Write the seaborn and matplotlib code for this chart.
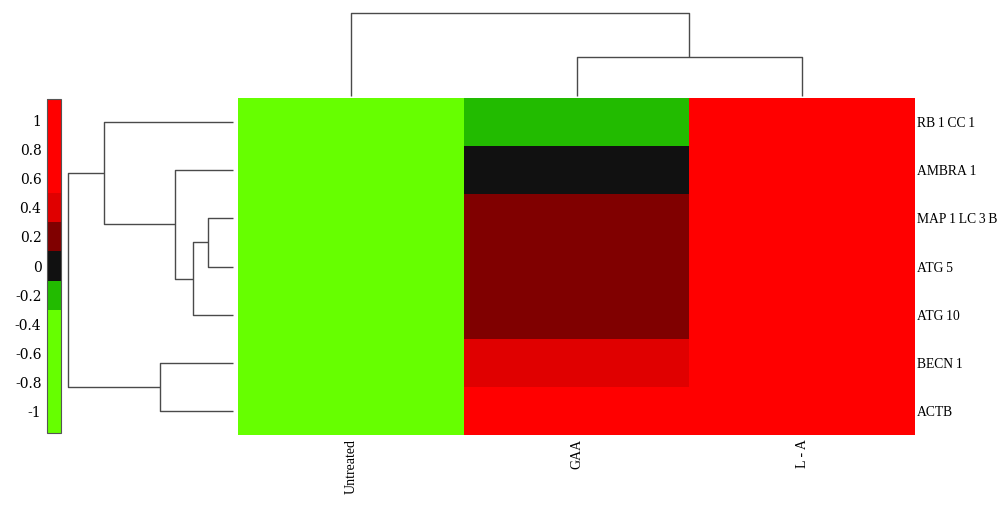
import numpy as np
import pandas as pd
import matplotlib
matplotlib.use("Agg")
import matplotlib.pyplot as plt
import seaborn as sns
from matplotlib.colors import ListedColormap, BoundaryNorm
from matplotlib.cm import ScalarMappable

# ---------------- data ----------------
genes = ["RB\u20091\u2009CC\u20091", "AMBRA\u20091", "MAP\u20091\u2009LC\u20093\u2009B",
         "ATG\u20095", "ATG\u200910", "BECN\u20091", "ACTB"]
treatments = ["Untreated", "GAA", "L - A"]
untreated = [-1.0, -1.0, -1.0, -1.0, -1.0, -1.0, -1.0]
gaa = [-0.2, 0.0, 0.2, 0.2, 0.2, 0.4, 1.0]
l_a = [1.0, 1.0, 1.0, 1.0, 1.0, 1.0, 1.0]

# row dendrogram merges (leaves 0..6, new clusters numbered from 7)
row_left = [2, 7, 1, 0, 5, 10]
row_right = [3, 4, 8, 9, 6, 11]
row_height = [0.15, 0.24, 0.35, 0.78, 0.44, 1.0]
# column dendrogram merges (leaves 0..2, new clusters from 3)
col_left = [1, 0]
col_right = [2, 3]
col_height = [0.47, 1.0]

cbar_bounds = [-1.15, -0.3, -0.1, 0.1, 0.3, 0.5, 1.15]
cbar_colors = ["#66ff00", "#22bb00", "#111111", "#800000", "#e00000", "#ff0000"]
cbar_ticks = [-1, -0.8, -0.6, -0.4, -0.2, 0, 0.2, 0.4, 0.6, 0.8, 1]
cbar_ticklabels = ["-1", "-0.8", "-0.6", "-0.4", "-0.2", "0", "0.2", "0.4", "0.6", "0.8", "1"]

# ---------------- figure ----------------
sns.set_theme(style="white")
plt.rcParams["font.family"] = ["Liberation Serif", "DejaVu Serif"]
plt.rcParams["text.color"] = "black"

W, H = 1000, 505
fig = plt.figure(figsize=(W / 100, H / 100), dpi=100)

def px_axes(x0, y0, x1, y1):
    return fig.add_axes([x0 / W, 1 - y1 / H, (x1 - x0) / W, (y1 - y0) / H])

df = pd.DataFrame({treatments[0]: untreated, treatments[1]: gaa, treatments[2]: l_a}, index=genes)
cmap = ListedColormap(cbar_colors)
norm = BoundaryNorm(cbar_bounds, cmap.N)

ax_hm = px_axes(238, 98, 915, 435)
sns.heatmap(df, cmap=cmap, norm=norm, cbar=False, ax=ax_hm,
            xticklabels=True, yticklabels=True, linewidths=0)
ax_hm.yaxis.tick_right()
ax_hm.tick_params(axis="y", length=0, pad=1.5, labelcolor="black")
ax_hm.tick_params(axis="x", length=0, pad=3, labelcolor="black")
for t in ax_hm.get_yticklabels():
    t.set_rotation(0)
    t.set_ha("left")
    t.set_fontsize(9.8)
for t in ax_hm.get_xticklabels():
    t.set_rotation(90)
    t.set_va("top")
    t.set_fontsize(10)
ax_hm.set_xlabel("")
ax_hm.set_ylabel("")

line_kw = dict(color="#4a4a4a", lw=1.0, solid_capstyle="butt", clip_on=False)

def draw_dendro(ax, n, lefts, rights, heights, orient):
    pos = {i: i + 0.5 for i in range(n)}
    hgt = {i: 0.0 for i in range(n)}
    for k, (a, b, h) in enumerate(zip(lefts, rights, heights)):
        cid = n + k
        hs = [hgt[a], h, h, hgt[b]]
        ps = [pos[a], pos[a], pos[b], pos[b]]
        if orient == "left":
            ax.plot(hs, ps, **line_kw)
        else:
            ax.plot(ps, hs, **line_kw)
        pos[cid] = (pos[a] + pos[b]) / 2
        hgt[cid] = h

ax_rd = px_axes(68, 98, 233, 435)
draw_dendro(ax_rd, len(genes), row_left, row_right, row_height, "left")
ax_rd.set_xlim(1.0, 0.0)
ax_rd.set_ylim(len(genes), 0)
ax_rd.axis("off")

ax_cd = px_axes(238, 13, 915, 96)
draw_dendro(ax_cd, len(treatments), col_left, col_right, col_height, "top")
ax_cd.set_xlim(0, len(treatments))
ax_cd.set_ylim(0, 1.0)
ax_cd.axis("off")

ax_cb = px_axes(47, 99, 61, 433)
sm = ScalarMappable(norm=norm, cmap=cmap)
cb = fig.colorbar(sm, cax=ax_cb, boundaries=cbar_bounds, spacing="proportional", ticks=cbar_ticks)
cb.ax.minorticks_off()
cb.ax.yaxis.set_ticks_position("left")
cb.ax.set_yticks(cbar_ticks)
cb.ax.set_yticklabels(cbar_ticklabels, fontfamily="DejaVu Serif")
cb.ax.tick_params(which="both", length=0, pad=4, labelsize=10, labelcolor="black")
cb.outline.set_edgecolor("#555555")
cb.outline.set_linewidth(0.8)

fig.savefig("out.png", dpi=100)
